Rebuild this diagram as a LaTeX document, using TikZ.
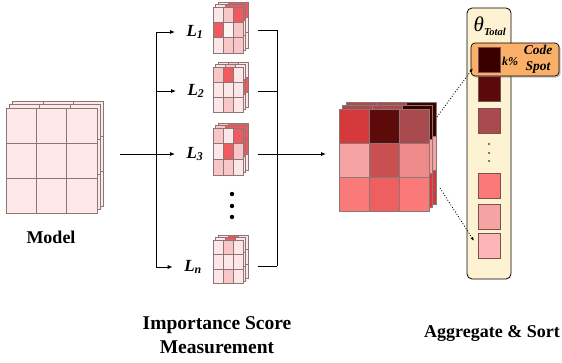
\documentclass[tikz,border=0pt]{standalone}
\usepackage{fontspec}
\setmainfont{Liberation Serif}
\usetikzlibrary{arrows.meta, positioning, shadows}

\definecolor{cellpink}{HTML}{FDE9EA}
\definecolor{celledge}{HTML}{8C7676}
\definecolor{pa}{HTML}{FDE6E7}
\definecolor{pb}{HTML}{F9C6C8}
\definecolor{pc}{HTML}{EE5A5F}
\definecolor{pd}{HTML}{FDF2F2}
\definecolor{aa}{HTML}{D43A3C}
\definecolor{ab}{HTML}{5C0A0A}
\definecolor{ac}{HTML}{A84A4E}
\definecolor{ad}{HTML}{F5A3A3}
\definecolor{ae}{HTML}{C85050}
\definecolor{af}{HTML}{EE8A8A}
\definecolor{ag}{HTML}{FA7A7A}
\definecolor{ah}{HTML}{EE6060}
\definecolor{sqa}{HTML}{3A0000}
\definecolor{sqb}{HTML}{5A0A0A}
\definecolor{sqc}{HTML}{A84A4E}
\definecolor{sqd}{HTML}{FA7A7A}
\definecolor{sqe}{HTML}{F5A3A3}
\definecolor{sqf}{HTML}{FDB5B8}
\definecolor{sqedge}{HTML}{7A5050}
\definecolor{cream}{HTML}{FDF2D2}
\definecolor{spotorange}{HTML}{FBB06A}

% one 3x3 layer: x, y, cell width, cell height, colours
\newcommand{\gridlayer}[5]{%
	\foreach \cc [count=\i from 0] in {#5}{
			\pgfmathtruncatemacro{\gx}{mod(\i,3)}
			\pgfmathtruncatemacro{\gy}{div(\i,3)}
			\filldraw[fill=\cc, draw=celledge, line width=0.5pt] ({#1+\gx*#3},{#2+\gy*#4}) rectangle ++(#3,#4);
		}}
% three layers: x, y, cell width, cell height, depth, back colours, front colours
\newcommand{\stackcube}[7]{%
	\gridlayer{#1+2*#5}{#2-2*#5}{#3}{#4}{#6}
	\gridlayer{#1+#5}{#2-#5}{#3}{#4}{#6}
	\gridlayer{#1}{#2}{#3}{#4}{#7}}

\tikzset{
	caption/.style={font=\fontsize{18}{24}\selectfont\bfseries, align=center},
	layer/.style={font=\fontsize{17}{17}\selectfont\bfseries\itshape},
	flow/.style={line width=0.9pt, -{Latex[length=5pt, width=4pt]}},
	link/.style={line width=0.9pt},
	hint/.style={dash pattern=on 1pt off 1.8pt, line width=0.8pt, -{Latex[length=4pt, width=3pt]}},
	cell/.style={draw=sqedge, line width=0.6pt}
}

\begin{document}
\begin{tikzpicture}[x=1pt, y=-1pt]
	\useasboundingbox (0,0) rectangle (562,362);

	% model
	\stackcube{6}{108}{30.3}{35}{3.3}{cellpink,cellpink,cellpink,cellpink,cellpink,cellpink,cellpink,cellpink,cellpink}{cellpink,cellpink,cellpink,cellpink,cellpink,cellpink,cellpink,cellpink,cellpink}
	\node[caption] (model) at (51,237) {Model};

	% layer scores
	\stackcube{213}{7}{10}{15.3}{2.5}{pa,pc,pc,pa,pb,pa,pa,pb,pa}{pa,pb,pc,pc,pd,pb,pa,pb,pb}
	\stackcube{213}{67}{10}{15}{2.5}{pa,pb,pa,pa,pa,pc,pa,pb,pa}{pb,pc,pa,pa,pa,pa,pa,pb,pa}
	\stackcube{213}{128}{10}{15.6}{2.5}{pb,pc,pc,pa,pb,pc,pa,pb,pa}{pb,pa,pc,pa,pc,pb,pb,pb,pa}
	\stackcube{213}{240}{10}{14.5}{2.5}{pa,pc,pa,pa,pa,pa,pa,pb,pa}{pa,pb,pa,pa,pa,pa,pa,pb,pa}
	\foreach \yy in {194,206,217}{
			\fill (232,\yy) circle (2.2);
		}

	\node[layer] (l1) at (195,32) {L\textsubscript{1}};
	\node[layer] (l2) at (196,91) {L\textsubscript{2}};
	\node[layer] (l3) at (195,154) {L\textsubscript{3}};
	\node[layer] (ln) at (193,267) {L\textsubscript{\itshape n}};

	\coordinate (model out) at (120,154);
	\coordinate (split) at (156,154);
	\draw[link] (model out) -- (split);
	\draw[link] (split |- l1) -- (split |- ln);
	\foreach \l in {l1,l2,l3,ln}{
			\draw[flow, shorten >=8pt] (split |- \l) -- (\l.west);
		}

	% aggregated scores
	\stackcube{339}{109}{30}{34}{3.5}{ac,ac,sqa,ad,af,ad,ag,aa,aa}{aa,ab,ac,ad,ae,af,ag,ah,ag}

	\coordinate (merge) at (277,154);
	\coordinate (agg in) at (326,154);
	\foreach \yy in {30,91,154,266}{
			\draw[link] (258,\yy) -- (merge |- 0,\yy);
		}
	\draw[link] (merge |- 0,30) -- (merge |- 0,266);
	\draw[flow] (merge) -- (agg in);

	% sorted column
	\node[draw, rounded corners=5pt, fill=cream, line width=0.8pt, minimum width=44pt, minimum height=271pt] (column) at (489,143.5) {};
	\node (theta) at (490,26) {{\fontsize{21}{21}\selectfont\itshape θ}\textsubscript{\fontsize{10.5}{10.5}\selectfont\bfseries\itshape Total}};

	\node[draw, rounded corners=4pt, fill=spotorange, line width=0.7pt, drop shadow={shadow xshift=1.5pt, shadow yshift=-1.5pt}, minimum width=88pt, minimum height=33pt] (spot) at (515,59.5) {};
	\node[font=\fontsize{12}{12}\selectfont\bfseries\itshape] (k) at (510,61) {k\%};
	\node[font=\fontsize{13.5}{16}\selectfont\bfseries\itshape, align=center] (code) at (538,59) {Code\\Spot};

	\foreach \yy/\cc in {47/sqa, 76/sqb, 108/sqc, 173/sqd, 204/sqe, 233/sqf}{
			\filldraw[fill=\cc, cell] (478,\yy) rectangle ++(22,25);
		}
	\foreach \yy in {144,153,161}{
			\fill (489,\yy) circle (0.8);
		}

	\coordinate (agg top) at (437,117);
	\coordinate (agg bottom) at (440,188);
	\coordinate (spot in) at (473,68);
	\coordinate (tail in) at (474,241);
	\draw[hint] (agg top) -- (spot in);
	\draw[hint] (agg bottom) -- (tail in);

	% captions
	\node[caption, font=\fontsize{19.5}{24}\selectfont\bfseries] (measure) at (217,335) {Importance Score\\Measurement};
	\node[caption] (sort) at (492,333) {Aggregate \& Sort};
\end{tikzpicture}
\end{document}
